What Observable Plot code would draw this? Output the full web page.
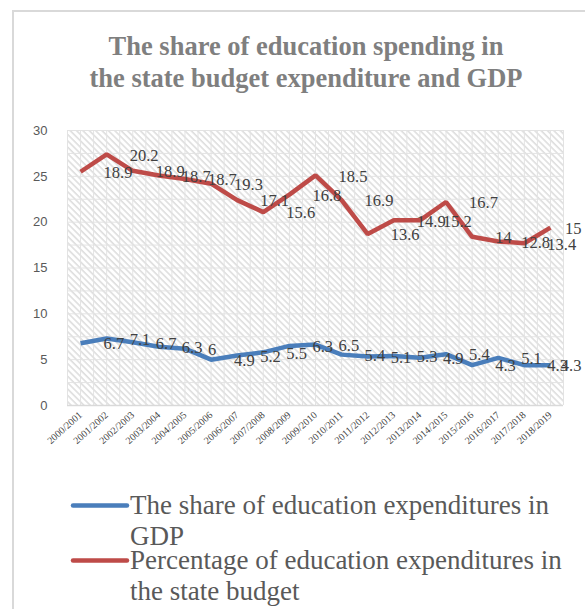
<!DOCTYPE html>
<html><head><meta charset="utf-8">
<script src="https://cdn.jsdelivr.net/npm/d3@7"></script>
<script src="https://cdn.jsdelivr.net/npm/@observablehq/plot@0.6"></script>
<style>
body{margin:0;background:#fff;width:585px;height:609px;overflow:hidden;position:relative;font-family:"Liberation Serif","Times New Roman",serif;}
#frame{position:absolute;left:12px;top:10px;width:620px;height:640px;border:2px solid #d9d9d9;box-sizing:border-box;}
#title{position:absolute;left:12px;width:588px;top:30px;text-align:center;font-weight:bold;font-size:26.5px;line-height:32px;color:#7f7f7f;}
#chart{position:absolute;left:0;top:100px;}
.leg{position:absolute;left:0;width:585px;}
.leg svg{position:absolute;left:0;top:0;}
.leg div{position:absolute;left:130px;top:0;font-size:27px;line-height:31px;color:#595959;white-space:nowrap;}
</style></head>
<body>
<div id="frame"></div>
<div id="title">The share of education spending in<br>the state budget expenditure and GDP</div>
<div id="chart"></div>
<div id="legend"></div>
<script>
const categories = ["2000/2001","2001/2002","2002/2003","2003/2004","2004/2005","2005/2006","2006/2007","2007/2008","2008/2009","2009/2010","2010/2011","2011/2012","2012/2013","2013/2014","2014/2015","2015/2016","2016/2017","2017/2018","2018/2019"];
const gdpLine = [6.8,7.3,6.9,6.4,6.2,5.0,5.45,5.8,6.5,6.65,5.55,5.35,5.4,5.2,5.6,4.4,5.2,4.4,4.4];
const gdpLabels = [6.7,7.1,6.7,6.3,6,4.9,5.2,5.5,6.3,6.5,5.4,5.1,5.3,4.9,5.4,4.3,5.1,4.3,4.3];
const budgetLine = [25.5,27.4,25.6,25.1,24.7,24.2,22.4,21.1,23.0,25.1,22.4,18.7,20.2,20.2,22.2,18.4,17.9,17.7,19.4];
const budgetLabels = [18.9,20.2,18.9,18.7,18.7,19.3,17.1,15.6,16.8,18.5,16.9,13.6,14.9,15.2,16.7,14,12.8,13.4,15];
const seriesNames = ["The share of education expenditures in GDP","Percentage of education expenditures in the state budget"];
const seriesColors = ["#4a7ebb","#be4b48"];
const yTicks = [0,5,10,15,20,25,30];

const rows = [];
categories.forEach((c,i)=>{
  rows.push({i, s:0, v:gdpLine[i], lab:gdpLabels[i]});
  rows.push({i, s:1, v:budgetLine[i], lab:budgetLabels[i]});
});
const last = categories.length-1;
const serif = "Liberation Serif, Times New Roman, serif";

const plot = Plot.plot({
  width:585, height:390,
  marginLeft:67, marginRight:22, marginTop:30, marginBottom:85,
  x:{type:"linear", domain:[-0.5, last+0.5]},
  y:{domain:[0,30]},
  marks:[
    Plot.frame({fill:"url(#hatch)", stroke:null}),
    Plot.ruleX(d3.range(-0.5, last+0.51, 0.5), {stroke:"#e3e3e3", strokeWidth:1}),
    Plot.ruleY(d3.range(2.5, 30.1, 2.5), {stroke:"#e3e3e3", strokeWidth:1}),
    Plot.ruleY([0], {stroke:"#d9d9d9", strokeWidth:1.5}),
    Plot.line(rows, {x:"i", y:"v", z:"s", stroke:d=>seriesColors[d.s], strokeWidth:4.5, strokeLinejoin:"miter", strokeLinecap:"butt"}),
    Plot.text(rows.filter(d=>d.i<last), {x:"i", y:"v", text:d=>String(d.lab), textAnchor:"start", dx:23, dy:1, fontSize:16.5, fontFamily:serif, fill:"#404040"}),
    Plot.text(rows.filter(d=>d.i===last), {x:"i", y:"v", text:d=>String(d.lab), textAnchor:"end", dx:31, dy:1, fontSize:16.5, fontFamily:serif, fill:"#404040"}),
    Plot.axisY({ticks:yTicks, tickSize:0, tickPadding:20, fontSize:13, fontFamily:"Liberation Sans, Arial, sans-serif", fill:"#595959", label:null}),
    Plot.axisX({ticks:d3.range(categories.length), tickFormat:i=>categories[i], tickRotate:-42, tickSize:0, tickPadding:8, fontSize:10, fontFamily:serif, fill:"#404040", label:null})
  ]
});
plot.insertAdjacentHTML("afterbegin",
  '<defs><pattern id="hatch" patternUnits="userSpaceOnUse" width="4.5" height="4.5" patternTransform="rotate(-45)">' +
  '<rect width="4.5" height="4.5" fill="#ffffff"/><line x1="1" y1="0" x2="1" y2="4.5" stroke="#dedede" stroke-width="1.6"/></pattern></defs>');
document.getElementById("chart").appendChild(plot);

const legend = document.getElementById("legend");
const legTops = [490, 545];
const legLines = [["The share of education expenditures in","GDP"],["Percentage of education expenditures in","the state budget"]];
seriesNames.forEach((name,k)=>{
  const item = document.createElement("div");
  item.className = "leg";
  item.style.top = legTops[k] + "px";
  item.innerHTML = `<svg width="132" height="30"><line x1="73" x2="127" y1="15.5" y2="15.5" stroke="${seriesColors[k]}" stroke-width="4.5" stroke-linecap="round"/></svg><div>${legLines[k][0]}<br>${legLines[k][1]}</div>`;
  legend.appendChild(item);
});
</script>
</body></html>
